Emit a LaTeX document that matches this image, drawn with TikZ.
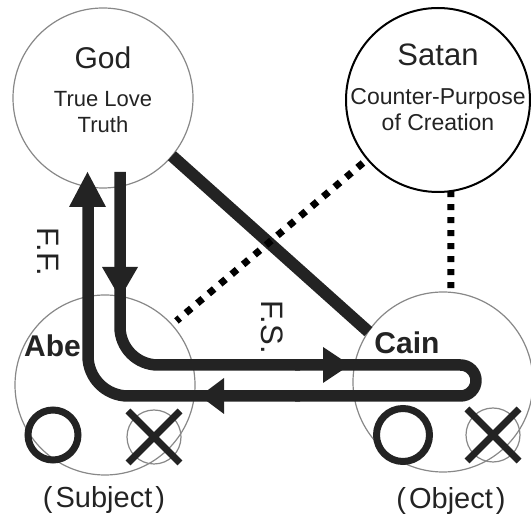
\documentclass[tikz,border=0pt]{standalone}
\usepackage{fontspec}
\setmainfont{Liberation Sans}
\usetikzlibrary{arrows.meta}
\definecolor{ink}{HTML}{232323}
\definecolor{rim}{HTML}{888888}
\tikzset{
  person/.style={circle, draw=rim, line width=1.2pt, minimum size=180pt, inner sep=0pt, outer sep=0pt},
  spirit/.style={circle, draw=black, line width=2pt, minimum size=184pt, inner sep=0pt, outer sep=0pt},
  lbl/.style={text=ink, inner sep=0pt, anchor=base},
  flow/.style={draw=ink, line width=11.5pt, line cap=butt, line join=round},
  head/.style={fill=ink},
  dotline/.style={draw=black, line width=7pt, dash pattern=on 7pt off 8pt},
  marker/.style={draw=ink, line width=7pt},
  thinring/.style={draw=rim, line width=1.2pt},
}
\newcommand{\fs}[1]{\fontsize{#1}{#1}\selectfont}
\begin{document}
\begin{tikzpicture}[x=1pt,y=-1pt]
\useasboundingbox (0,0) rectangle (531,518);
% circles
\node[person] (god) at (103,98) {};
\node[spirit] (satan) at (438,100) {};
\node[person] (abel) at (105,385) {};
\node[person] (cain) at (443,382) {};
% texts
\node[lbl, font=\fs{30}] (godt) at (103,69) {God};
\node[lbl, font=\fs{22}] (godl) at (103,107) {True Love};
\node[lbl, font=\fs{22}] (godr) at (103,133) {Truth};
\node[lbl, font=\fs{31}] (satt) at (438,66) {Satan};
\node[lbl, font=\fs{23}] (satc) at (438,105) {Counter-Purpose};
\node[lbl, font=\fs{23}] (sato) at (438,131) {of Creation};
\node[lbl, font=\fs{30}\bfseries, anchor=base west] (abelt) at (24,357) {Abe};
\node[lbl, font=\fs{30}\bfseries] (caint) at (407,354) {Cain};
\node[lbl, font=\fs{29}] (subj) at (104,508) {(\kern3pt Subject\kern3pt)};
\node[lbl, font=\fs{29}] (obj) at (451,509) {(\kern3pt Object\kern3pt)};
\node[text=ink, inner sep=0pt, rotate=-90, font=\fs{31}] (ff) at (48,252) {F.F.};
\node[text=ink, inner sep=0pt, rotate=-90, font=\fs{31}] (fs) at (272,327) {F.S.};
% relations
\draw[draw=ink, line width=12pt, line cap=butt] (god.-40) -- (cain.146);
\draw[dotline, shorten <=6pt, shorten >=6pt] (satan.220) -- (abel.42);
\draw[draw=black, line width=7pt, dash pattern=on 6pt off 7pt] (satan.-82) -- (cain.85);
% flow path
\coordinate (a0) at (120,172);
\coordinate (a1) at (120,365);
\coordinate (a2) at (300,365);
\coordinate (b0) at (295,365);
\coordinate (b1) at (476,365);
\coordinate (b2) at (476,396);
\coordinate (b3) at (295,396);
\coordinate (c0) at (300,396);
\coordinate (c1) at (88,396);
\coordinate (c2) at (88,200);
\draw[flow, rounded corners=38pt] (a0) -- (a1) -- (a2);
\draw[flow, rounded corners=15.5pt] (b0) -- (b1) -- (b2) -- (b3);
\draw[flow, rounded corners=40pt] (c0) -- (c1) -- (c2);
% arrowheads
\fill[head] (102,267) -- (138,267) -- (120,298) -- cycle;
\fill[head] (323,347) -- (323,383) -- (350,365) -- cycle;
\fill[head] (224,378) -- (224,414) -- (200,396) -- cycle;
\fill[head] (69,207) -- (106,207) -- (87.5,172) -- cycle;
% O and X marks
\draw[marker] (53,435) circle[radius=25pt];
\draw[thinring] (154,437) circle[radius=27pt];
\draw[marker] (128,411) -- (180,463) (180,411) -- (128,463);
\draw[marker] (403,435) circle[radius=26.5pt];
\draw[thinring] (493,435) circle[radius=27pt];
\draw[marker] (467,409) -- (519,461) (519,409) -- (467,461);
\end{tikzpicture}
\end{document}
